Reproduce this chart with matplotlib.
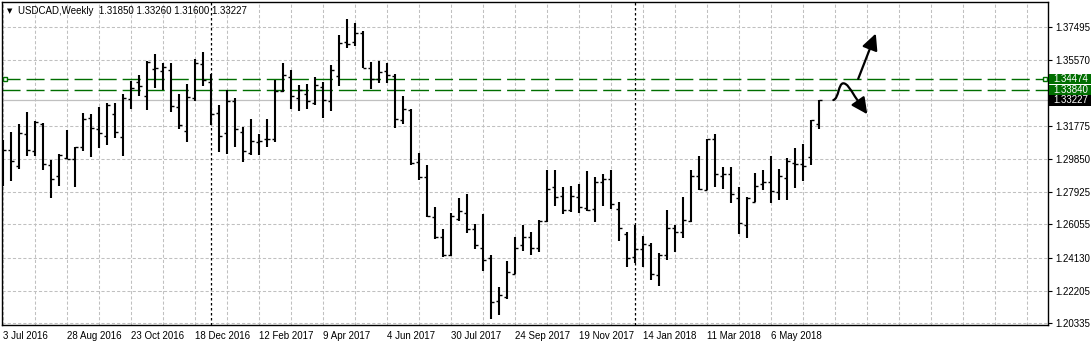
import numpy as np
import pandas as pd
import matplotlib
matplotlib.use('Agg')
import matplotlib.pyplot as plt
from matplotlib.path import Path
from matplotlib.patches import FancyArrowPatch, Rectangle
from matplotlib.ticker import MultipleLocator

plt.rcParams['font.family'] = ['Liberation Sans', 'DejaVu Sans']

# weekly USDCAD bars
symbol = 'USDCAD,Weekly'
weeks = pd.date_range('2016-07-03', periods=103, freq='7D')

opens = [1.2915, 1.3035, 1.2944, 1.3127, 1.3029, 1.3187, 1.2951, 1.2886, 1.2988, 1.2982,
         1.3052, 1.3220, 1.3158, 1.3116, 1.3243, 1.3113, 1.3330, 1.3430, 1.3347, 1.3503,
         1.3495, 1.3497, 1.3283, 1.3144, 1.3337, 1.3534, 1.3430, 1.3249, 1.3133, 1.3320,
         1.3139, 1.3021, 1.3081, 1.3098, 1.3098, 1.3376, 1.3457, 1.3335, 1.3359, 1.3306,
         1.3401, 1.3320, 1.3463, 1.3659, 1.3659, 1.3715, 1.3512, 1.3445, 1.3493, 1.3463,
         1.3208, 1.3266, 1.2969, 1.2878, 1.2647, 1.2531, 1.2430, 1.2639, 1.2672, 1.2577,
         1.2469, 1.2411, 1.2161, 1.2184, 1.2320, 1.2485, 1.2531, 1.2467, 1.2624, 1.2820,
         1.2768, 1.2687, 1.2763, 1.2699, 1.2695, 1.2851, 1.2867, 1.2693, 1.2550, 1.2417,
         1.2465, 1.2488, 1.2313, 1.2427, 1.2583, 1.2562, 1.2627, 1.2886, 1.2807, 1.3100,
         1.2886, 1.2896, 1.2757, 1.2602, 1.2734, 1.2841, 1.2849, 1.2795, 1.2872, 1.2959,
         1.2953, 1.2996, 1.31850]
highs = [1.3094, 1.3140, 1.3187, 1.3256, 1.3204, 1.3193, 1.2978, 1.3011, 1.3152, 1.3052,
         1.3249, 1.3243, 1.3283, 1.3310, 1.3306, 1.3359, 1.3436, 1.3470, 1.3549, 1.3592,
         1.3540, 1.3538, 1.3360, 1.3418, 1.3561, 1.3602, 1.3474, 1.3297, 1.3383, 1.3337,
         1.3169, 1.3216, 1.3129, 1.3216, 1.3441, 1.3540, 1.3499, 1.3412, 1.3418, 1.3459,
         1.3430, 1.3526, 1.3703, 1.3794, 1.3769, 1.3725, 1.3545, 1.3551, 1.3541, 1.3474,
         1.3349, 1.3273, 1.3021, 1.2949, 1.2706, 1.2579, 1.2673, 1.2759, 1.2782, 1.2606,
         1.2666, 1.2427, 1.2244, 1.2392, 1.2533, 1.2601, 1.2562, 1.2631, 1.2921, 1.2921,
         1.2822, 1.2830, 1.2841, 1.2915, 1.2880, 1.2897, 1.2921, 1.2734, 1.2560, 1.2601,
         1.2539, 1.2500, 1.2439, 1.2689, 1.2604, 1.2764, 1.2921, 1.3003, 1.3102, 1.3127,
         1.2938, 1.2938, 1.2820, 1.2763, 1.2903, 1.2919, 1.3002, 1.2926, 1.2992, 1.3050,
         1.3069, 1.3210, 1.33260]
lows = [1.2830, 1.2857, 1.2928, 1.3003, 1.3003, 1.2921, 1.2760, 1.2830, 1.2982, 1.2824,
        1.3032, 1.2997, 1.3050, 1.3067, 1.3104, 1.3003, 1.3275, 1.3350, 1.3266, 1.3397,
        1.3382, 1.3254, 1.3156, 1.3081, 1.3320, 1.3405, 1.3181, 1.3026, 1.3015, 1.3055,
        1.2969, 1.3009, 1.3009, 1.3055, 1.3084, 1.3374, 1.3273, 1.3264, 1.3275, 1.3297,
        1.3223, 1.3264, 1.3408, 1.3628, 1.3636, 1.3509, 1.3387, 1.3426, 1.3422, 1.3165,
        1.3185, 1.2948, 1.2861, 1.2647, 1.2521, 1.2415, 1.2425, 1.2627, 1.2558, 1.2465,
        1.2338, 1.2060, 1.2083, 1.2172, 1.2317, 1.2450, 1.2430, 1.2448, 1.2620, 1.2714,
        1.2668, 1.2676, 1.2672, 1.2682, 1.2621, 1.2714, 1.2697, 1.2511, 1.2358, 1.2381,
        1.2361, 1.2284, 1.2251, 1.2400, 1.2448, 1.2527, 1.2620, 1.2805, 1.2803, 1.2824,
        1.2812, 1.2731, 1.2550, 1.2529, 1.2734, 1.2805, 1.2731, 1.2749, 1.2745, 1.2818,
        1.2859, 1.2949, 1.31600]
closes = [1.3036, 1.2971, 1.3133, 1.3036, 1.3200, 1.2957, 1.2867, 1.3006, 1.2986, 1.3052,
          1.3216, 1.3162, 1.3133, 1.3297, 1.3139, 1.3339, 1.3393, 1.3405, 1.3545, 1.3511,
          1.3515, 1.3289, 1.3179, 1.3341, 1.3538, 1.3440, 1.3243, 1.3116, 1.3320, 1.3156,
          1.3029, 1.3087, 1.3090, 1.3100, 1.3378, 1.3468, 1.3347, 1.3383, 1.3320, 1.3411,
          1.3326, 1.3497, 1.3654, 1.3648, 1.3711, 1.3512, 1.3449, 1.3488, 1.3468, 1.3216,
          1.3273, 1.2963, 1.2878, 1.2653, 1.2533, 1.2430, 1.2653, 1.2682, 1.2581, 1.2485,
          1.2400, 1.2157, 1.2196, 1.2330, 1.2467, 1.2531, 1.2467, 1.2627, 1.2809, 1.2763,
          1.2689, 1.2770, 1.2705, 1.2687, 1.2851, 1.2868, 1.2724, 1.2583, 1.2413, 1.2465,
          1.2494, 1.2317, 1.2430, 1.2583, 1.2562, 1.2630, 1.2886, 1.2811, 1.3100, 1.2896,
          1.2896, 1.2782, 1.2612, 1.2759, 1.2830, 1.2849, 1.2799, 1.2888, 1.2973, 1.2953,
          1.2945, 1.3208, 1.33227]

level_lines = [1.34474, 1.33840]
separators = ['2017-01-01', '2018-01-07']

xtick_labels = ['3 Jul 2016', '28 Aug 2016', '23 Oct 2016', '18 Dec 2016', '12 Feb 2017',
                '9 Apr 2017', '4 Jun 2017', '30 Jul 2017', '24 Sep 2017', '19 Nov 2017',
                '14 Jan 2018', '11 Mar 2018', '6 May 2018']
ytick_values = [1.37495, 1.35570, 1.31775, 1.29850, 1.27925, 1.26055, 1.24130, 1.22205, 1.20335]
ytick_labels = ['%.5f' % v for v in ytick_values]

GREEN = '#006e00'
GRID = '#c0c0c0'

W, H = 1091, 347
fig = plt.figure(figsize=(W / 100, H / 100), dpi=100)
ax = fig.add_axes([2 / W, 22 / H, 1046 / W, 323 / H])

x = np.arange(len(weeks))
ax.set_xlim(-0.125, 130.625)
ax.set_ylim(1.20237, 1.38925)

# grid
xtick_pos = [weeks.get_loc(pd.to_datetime(s, format='%d %b %Y')) for s in xtick_labels]
ax.set_xticks(xtick_pos)
ax.set_xticklabels(xtick_labels, ha='left')
ax.xaxis.set_minor_locator(MultipleLocator(4))
ax.xaxis.remove_overlapping_locs = False
ax.set_yticks(ytick_values)
ax.set_yticklabels(ytick_labels)
ax.yaxis.tick_right()
ax.grid(which='minor', axis='x', color=GRID, linestyle=(0, (3, 2)), lw=0.75)
ax.grid(which='major', axis='y', color=GRID, linestyle=(0, (3, 2)), lw=0.75)
ax.set_axisbelow(True)
ax.tick_params(axis='both', which='major', labelsize=7, length=3, width=0.8, pad=2.5, colors='black')
ax.tick_params(axis='x', which='major', length=0, pad=4)
ax.tick_params(axis='x', which='minor', length=0)
for s in ax.spines.values():
    s.set_linewidth(1.0)

# period separators
for d in separators:
    ax.axvline(weeks.get_loc(pd.Timestamp(d)), color='black', lw=0.9, linestyle=(0, (2, 2)), zorder=1)

# levels and bid line
for lv in level_lines:
    ax.axhline(lv, color=GREEN, lw=1.0, linestyle=(0, (13, 4.3)), zorder=2)
ax.axhline(closes[-1], color=GRID, lw=0.9, zorder=2)
yx = ax.get_yaxis_transform()
for xa in [0.003, 0.9971]:
    ax.plot([xa], [level_lines[0]], marker='s', ms=3.5, mfc='white', mec=GREEN, mew=1.0,
            transform=yx, clip_on=False, zorder=6)

# OHLC bars
tk = 0.36
ax.vlines(x, lows, highs, color='black', lw=1.5, zorder=4)
ax.hlines(opens, x - tk, x, color='black', lw=1.0, zorder=4)
ax.hlines(closes, x, x + tk, color='black', lw=1.0, zorder=4)

# hand drawn arrows
up = FancyArrowPatch((106.9, 1.3448), (109.1, 1.3710), arrowstyle='-|>,head_length=0.65,head_width=0.32',
                     mutation_scale=15, lw=1.6, color='black', shrinkA=0, shrinkB=0, zorder=5)
ax.add_patch(up)
curve = Path([(103.79, 1.3325), (104.5, 1.3335), (104.4, 1.3422), (105.04, 1.3422),
              (105.5, 1.3422), (105.9, 1.3390), (106.5, 1.3345), (108.04, 1.3243)],
             [Path.MOVETO, Path.CURVE4, Path.CURVE4, Path.CURVE4,
              Path.CURVE4, Path.CURVE4, Path.CURVE4, Path.LINETO])
down = FancyArrowPatch(path=curve, arrowstyle='-|>,head_length=0.65,head_width=0.32',
                       mutation_scale=15, lw=1.6, color='black', zorder=5)
ax.add_patch(down)

# price labels on the scale
hh = 5.2 * (1.38925 - 1.20237) / 323
for v, c in [(level_lines[0], GREEN), (level_lines[1], GREEN), (closes[-1], 'black')]:
    ax.add_patch(Rectangle((1.001, v - hh), 0.043, 2 * hh, transform=yx, facecolor=c,
                           edgecolor='none', clip_on=False, zorder=6))
    ax.text(1.0055, v, '%.5f' % v, transform=yx, color='white', fontsize=7,
            ha='left', va='center', zorder=7)

# header
fig.text(7 / W, 1 - 11 / H, '\u25bc', fontsize=5, va='center', ha='left', family=['DejaVu Sans'])
fig.text(18 / W, 1 - 11 / H, '%s  %.5f %.5f %.5f %.5f' % (symbol, opens[-1], highs[-1], lows[-1], closes[-1]),
         fontsize=7, va='center', ha='left')

fig.savefig('out.png', dpi=100, facecolor='white')
